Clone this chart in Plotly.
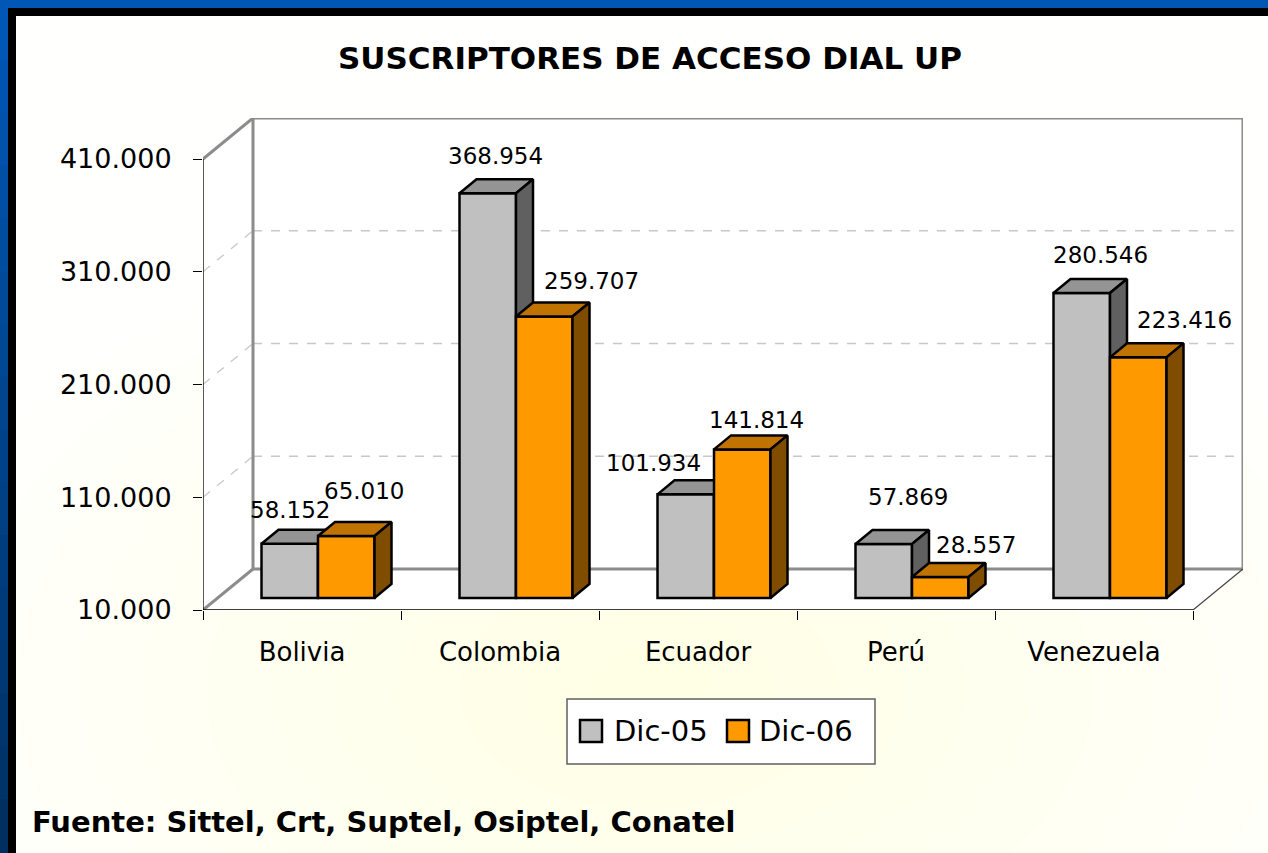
import plotly.graph_objects as go

# ---------------- data ----------------
categories = ["Bolivia", "Colombia", "Ecuador", "Perú", "Venezuela"]
series_names = ["Dic-05", "Dic-06"]
dic05 = [58152, 368954, 101934, 57869, 280546]
dic06 = [65010, 259707, 141814, 28557, 223416]
y_tick_values = [10000, 110000, 210000, 310000, 410000]
y_tick_labels = ["10.000", "110.000", "210.000", "310.000", "410.000"]
title_text = "SUSCRIPTORES DE ACCESO DIAL UP"
source_text = "Fuente: Sittel, Crt, Suptel, Osiptel, Conatel"

# ---------------- geometry / style ----------------
W, H = 1268, 853
AX_LEFT = 203            # px of front y axis
CAT_PX = 198             # px per category on front plane
Y0_PX = 610              # px of the axis minimum on the front plane
PX_PER_UNIT = 451 / 400000
WALL_DX, WALL_DY = 50, 41
BAR_OFF_DX, BAR_OFF_DY = 16, 12
BAR_DEP_DX, BAR_DEP_DY = 17, 14
BAR_W_PX = 56.5
FONT = "DejaVu Sans"

ymin = y_tick_values[0]
ytop = y_tick_values[-1]


def ux(px):
    return px / CAT_PX


def uy(px):
    return px / PX_PER_UNIT


wx, wy = ux(WALL_DX), uy(WALL_DY)
ox, oy = ux(BAR_OFF_DX), uy(BAR_OFF_DY)
bx, by = ux(BAR_DEP_DX), uy(BAR_DEP_DY)
bw = ux(BAR_W_PX)
n = len(categories)
xr = [-0.5, n - 0.5 + wx]
yr = [ymin, ytop + wy]
x_dom = [AX_LEFT / W, (AX_LEFT + n * CAT_PX + WALL_DX) / W]
y_dom = [1 - Y0_PX / H, 1 - (Y0_PX - (ytop - ymin) * PX_PER_UNIT - WALL_DY) / H]

styles = [
    dict(front="#C0C0C0", top="#949494", side="#606060", offset=-bw,
         shifts=[(0, 34), (8, 37), (-32, 31), (24, 47), (19, 38)]),
    dict(front="#FF9900", top="#C07300", side="#804C00", offset=0.0,
         shifts=[(18, 45), (47, 35), (14, 29), (36, 32), (46, 37)]),
]


def fmt(v):
    return f"{v:,}".replace(",", ".")


def faces(values, offset):
    tx, ty, sx, sy = [], [], [], []
    for i, v in enumerate(values):
        x0 = i + ox + offset
        x1 = x0 + bw
        base = ymin + oy
        top = v + oy
        tx += [x0, x0 + bx, x1 + bx, x1, x0, None]
        ty += [top, top + by, top + by, top, top, None]
        sx += [x1, x1 + bx, x1 + bx, x1, x1, None]
        sy += [base, base + by, top + by, top, base, None]
    return tx, ty, sx, sy


fig = go.Figure()
annotations = []
z = 0
for name, vals, st in zip(series_names, [dic05, dic06], styles):
    xs = [i + ox for i in range(n)]
    fig.add_trace(go.Bar(
        name=name, x=xs, y=[v - ymin for v in vals], base=ymin + oy,
        width=bw, offset=st["offset"],
        marker=dict(color=st["front"], line=dict(color="black", width=2.5)),
        showlegend=False, zorder=z, hoverinfo="skip"))
    tx, ty, sx, sy = faces(vals, st["offset"])
    fig.add_trace(go.Scatter(x=tx, y=ty, mode="lines", fill="toself",
                             fillcolor=st["top"], line=dict(color="black", width=2.5),
                             showlegend=False, zorder=z + 1, hoverinfo="skip"))
    fig.add_trace(go.Scatter(x=sx, y=sy, mode="lines", fill="toself",
                             fillcolor=st["side"], line=dict(color="black", width=2.5),
                             showlegend=False, zorder=z + 1, hoverinfo="skip"))
    z += 2
    for i, v in enumerate(vals):
        dx, dy = st["shifts"][i]
        annotations.append(dict(
            x=i + ox + st["offset"] + bw / 2, y=v + oy, xref="x", yref="y",
            text=fmt(v), showarrow=False, xanchor="center", yanchor="middle",
            xshift=dx, yshift=dy, font=dict(family=FONT, size=23, color="black")))

# ---------------- shapes ----------------
shapes = []
# soft yellow glow on the background
cx, cy = 650, 690
nglow = 12
for k in range(nglow):
    f = 1 - k / nglow
    rx, ry = 760 * f, 480 * f
    shapes.append(dict(type="circle", xref="paper", yref="paper", layer="below",
                       x0=(cx - rx) / W, x1=(cx + rx) / W,
                       y0=1 - (cy + ry) / H, y1=1 - (cy - ry) / H,
                       fillcolor="rgba(255,255,180,0.03)", line=dict(width=0)))

xl, xrt = -0.5, n - 0.5
# white walls + floor
wall_path = (f"M{xl},{ymin} L{xl},{ytop} L{xl + wx},{ytop + wy} L{xrt + wx},{ytop + wy} "
             f"L{xrt + wx},{ymin + wy} L{xrt},{ymin} Z")
shapes.append(dict(type="path", xref="x", yref="y", path=wall_path, layer="below",
                   fillcolor="white", line=dict(width=0)))
# dashed grid lines
for v in y_tick_values[1:-1]:
    shapes.append(dict(type="line", xref="x", yref="y", layer="below",
                       x0=xl + wx, x1=xrt + wx, y0=v + wy, y1=v + wy,
                       line=dict(color="#C8C8C8", width=1.3, dash="dash")))
    shapes.append(dict(type="line", xref="x", yref="y", layer="below",
                       x0=xl, x1=xl + wx, y0=v, y1=v + wy,
                       line=dict(color="#C8C8C8", width=1.3, dash="dash")))
wall_line = dict(color="#8C8C8C", width=3)
# back wall rectangle
shapes.append(dict(type="rect", xref="x", yref="y", layer="below",
                   x0=xl + wx, x1=xrt + wx, y0=ymin + wy, y1=ytop + wy, line=wall_line))
# left wall top edge and floor left edge
shapes.append(dict(type="line", xref="x", yref="y", layer="below",
                   x0=xl, x1=xl + wx, y0=ytop, y1=ytop + wy, line=wall_line))
shapes.append(dict(type="line", xref="x", yref="y", layer="below",
                   x0=xl, x1=xl + wx, y0=ymin, y1=ymin + wy, line=wall_line))
# floor right edge
shapes.append(dict(type="line", xref="x", yref="y", layer="below",
                   x0=xrt, x1=xrt + wx, y0=ymin, y1=ymin + wy,
                   line=dict(color="#404040", width=1.2)))
# front axis lines
shapes.append(dict(type="line", xref="x", yref="y", layer="below",
                   x0=xl, x1=xl, y0=ymin, y1=ytop, line=dict(color="black", width=1.3)))
shapes.append(dict(type="line", xref="x", yref="y", layer="below",
                   x0=xl, x1=xrt, y0=ymin, y1=ymin, line=dict(color="black", width=1.3)))

# border frame (blue + black)
nseg = 16
seg_h = (H - 8) / nseg
for k in range(nseg):
    t = k / (nseg - 1)
    g = int(round(0x57 + (0x30 - 0x57) * t))
    b = int(round(0xB5 + (0x62 - 0xB5) * t))
    top_px = 8 + k * seg_h
    shapes.append(dict(type="rect", xref="paper", yref="paper", x0=0, x1=8 / W,
                       y1=1 - (top_px - 1) / H,
                       y0=max(0, 1 - (top_px + seg_h + 1) / H),
                       fillcolor=f"rgb(0,{g},{b})", line=dict(width=0)))
shapes.append(dict(type="rect", xref="paper", yref="paper", x0=0, x1=1, y0=1 - 8 / H, y1=1,
                   fillcolor="#0057B5", line=dict(width=0)))
shapes.append(dict(type="rect", xref="paper", yref="paper", x0=8 / W, x1=1,
                   y0=1 - 16 / H, y1=1 - 8 / H, fillcolor="black", line=dict(width=0)))
shapes.append(dict(type="rect", xref="paper", yref="paper", x0=8 / W, x1=16 / W,
                   y0=0, y1=1 - 8 / H, fillcolor="black", line=dict(width=0)))

# legend box (manual, to match the large swatches)
shapes.append(dict(type="rect", xref="paper", yref="paper",
                   x0=567 / W, x1=875 / W, y0=1 - 764 / H, y1=1 - 699 / H,
                   fillcolor="white", line=dict(color="#606060", width=1.5)))
legend_items = [(580, 612), (727, 757)]
for (sq_x, tx_x), name, st in zip(legend_items, series_names, styles):
    shapes.append(dict(type="rect", xref="paper", yref="paper",
                       x0=sq_x / W, x1=(sq_x + 22) / W, y0=1 - 742 / H, y1=1 - 720 / H,
                       fillcolor=st["front"], line=dict(color="black", width=2.5)))
    annotations.append(dict(x=tx_x / W, y=1 - 731 / H, xref="paper", yref="paper",
                            text=name, showarrow=False, xanchor="left", yanchor="middle",
                            font=dict(family=FONT, size=29, color="black")))

annotations.append(dict(x=650 / W, y=1 - 58 / H, xref="paper", yref="paper",
                        text=f"<b>{title_text}</b>", showarrow=False,
                        xanchor="center", yanchor="middle",
                        font=dict(family=FONT, size=31, color="black")))
annotations.append(dict(x=30 / W, y=1 - 822 / H, xref="paper", yref="paper",
                        text=f"<b>{source_text}</b>", showarrow=False,
                        xanchor="left", yanchor="middle",
                        font=dict(family=FONT, size=29, color="black")))

fig.update_layout(
    width=W, height=H,
    margin=dict(l=0, r=0, t=0, b=0, autoexpand=False),
    paper_bgcolor="#FFFFFD", plot_bgcolor="rgba(0,0,0,0)",
    barmode="overlay",
    shapes=shapes, annotations=annotations,
    showlegend=False,
    xaxis=dict(domain=x_dom, range=xr, showgrid=False, zeroline=False, showline=False,
               tickmode="array", tickvals=list(range(n)), ticktext=categories,
               ticks="", ticklabelstandoff=24, automargin=False,
               tickfont=dict(family=FONT, size=26, color="black"),
               minor=dict(tickmode="array", tickvals=[i - 0.5 for i in range(n + 1)],
                          ticks="outside", ticklen=9, tickcolor="black", tickwidth=1.3,
                          showgrid=False)),
    yaxis=dict(domain=y_dom, range=yr, showgrid=False, zeroline=False, showline=False,
               tickmode="array", tickvals=y_tick_values, ticktext=y_tick_labels,
               ticks="outside", ticklen=9, tickcolor="black", tickwidth=1.3,
               ticklabelstandoff=16, automargin=False,
               tickfont=dict(family=FONT, size=27, color="black")),
)

fig.write_html(
    "out.html",
    config={"displayModeBar": False},
    post_script="document.body.style.margin='0';document.body.style.overflow='hidden';",
)
